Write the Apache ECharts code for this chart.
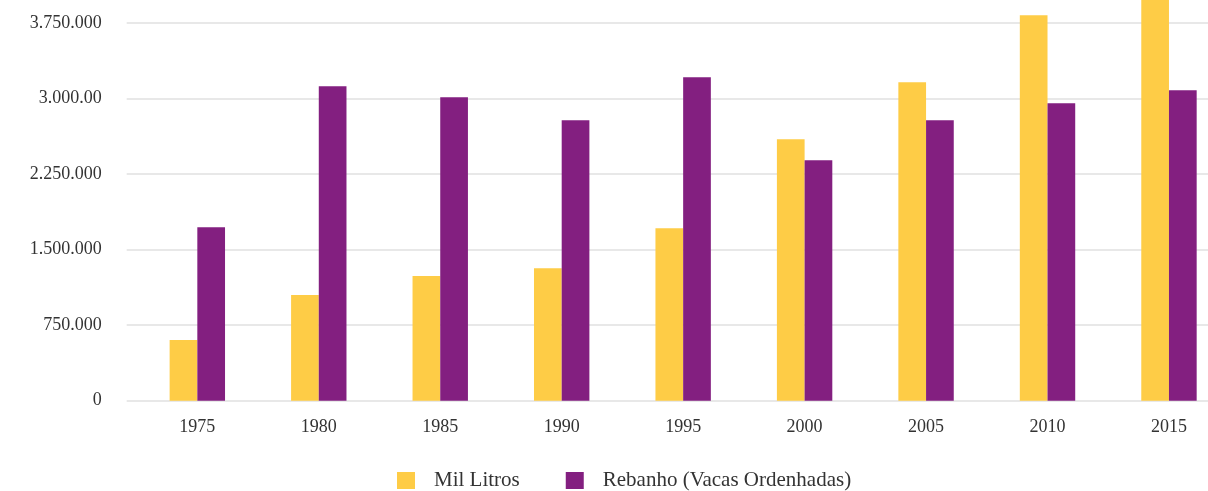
<!DOCTYPE html>
<html>
<head>
<meta charset="utf-8">
<script src="https://cdn.jsdelivr.net/npm/echarts@6/dist/echarts.min.js"></script>
<style>
  html, body { margin: 0; padding: 0; background: #ffffff; }
  #chart { width: 1208px; height: 491px; }
</style>
</head>
<body>
<div id="chart"></div>
<script>
// Produção de leite e rebanho de vacas ordenhadas, por ano
const years = ['1975', '1980', '1985', '1990', '1995', '2000', '2005', '2010', '2015'];
const milLitros = [602000, 1049000, 1237000, 1316000, 1713000, 2596000, 3162000, 3826000, 4050000];
const rebanho = [1723000, 3122000, 3013000, 2785000, 3211000, 2388000, 2785000, 2953000, 3082000];
const yTickLabels = ['0', '750.000', '1.500.000', '2.250.000', '3.000.00', '3.750.000', '4.500.000'];
const seriesNames = ['Mil Litros', 'Rebanho (Vacas Ordenhadas)'];

const yStep = 750000;
const yMax = 4500000;
const serif = '"Liberation Serif", "DejaVu Serif", serif';

const chart = echarts.init(document.getElementById('chart'), null, { renderer: 'canvas' });

chart.setOption({
  animation: false,
  backgroundColor: '#ffffff',
  color: ['#FECC46', '#831F80'],
  grid: [
    // bars
    { left: 136.6, width: 1093.1, top: -52.6, height: 453.3, outerBoundsMode: 'none', containLabel: false },
    // value scale with gridlines
    { left: 126.7, right: 0, top: -52.6, height: 453.3, outerBoundsMode: 'none', containLabel: false }
  ],
  legend: {
    data: seriesNames,
    left: 397,
    top: 470,
    padding: 0,
    itemWidth: 18,
    itemHeight: 17,
    itemGap: 46,
    icon: 'rect',
    textStyle: {
      fontFamily: serif,
      fontSize: 21,
      color: '#333333',
      padding: [0, 0, 0, 14]
    }
  },
  xAxis: [
    {
      type: 'category',
      gridIndex: 0,
      data: years,
      axisLine: { show: false },
      axisTick: { show: false },
      splitLine: { show: false },
      axisLabel: {
        margin: 18,
        fontFamily: serif,
        fontSize: 18,
        color: '#333333'
      }
    },
    { type: 'value', gridIndex: 1, show: false }
  ],
  yAxis: [
    {
      type: 'value',
      gridIndex: 0,
      min: 0,
      max: yMax,
      interval: yStep,
      show: false,
      splitLine: { show: false }
    },
    {
      type: 'value',
      gridIndex: 1,
      min: 0,
      max: yMax,
      interval: yStep,
      axisLine: { show: false },
      axisTick: { show: false },
      splitLine: { show: true, lineStyle: { color: '#e8e8e8', width: 2 } },
      axisLabel: {
        margin: 25,
        fontFamily: serif,
        fontSize: 18,
        color: '#333333',
        formatter: function (v) {
          const i = Math.round(v / yStep);
          return yTickLabels[i] !== undefined ? yTickLabels[i] : '';
        }
      }
    }
  ],
  series: [
    {
      name: seriesNames[0],
      type: 'bar',
      xAxisIndex: 0,
      yAxisIndex: 0,
      barWidth: 27.7,
      barGap: '0%',
      data: milLitros
    },
    {
      name: seriesNames[1],
      type: 'bar',
      xAxisIndex: 0,
      yAxisIndex: 0,
      barWidth: 27.7,
      barGap: '0%',
      data: rebanho
    }
  ]
});
</script>
</body>
</html>
